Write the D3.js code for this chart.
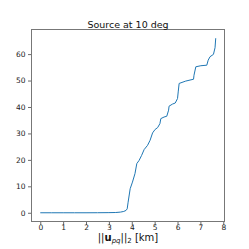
<!DOCTYPE html>
<html>
<head>
<meta charset="utf-8">
<script src="https://cdn.jsdelivr.net/npm/d3@7"></script>
<style>
  body { margin: 0; background: #fff; }
  svg { display: block; font-family: "DejaVu Sans", sans-serif; }
</style>
</head>
<body>
<div id="chart"></div>
<script>
// curve: baseline length (km) vs value
var distKm = [0, 0.5, 1.0, 1.5, 2.0, 2.5, 3.0, 3.3, 3.5, 3.65, 3.75, 3.8, 3.84, 3.93, 4.03, 4.14, 4.22,
  4.32, 4.43, 4.54, 4.69, 4.80, 4.91, 5.02, 5.13, 5.23, 5.27, 5.41, 5.53, 5.61, 5.63, 5.78,
  5.90, 6.00, 6.03, 6.07, 6.36, 6.70, 6.72, 6.80, 7.02, 7.28, 7.34, 7.42, 7.57, 7.64, 7.67];
var values = [0, 0, 0, 0, 0, 0.02, 0.05, 0.1, 0.25, 0.5, 0.9, 1.5, 4.0, 9.1, 11.6, 14.8, 18.6,
  19.8, 21.7, 23.9, 25.5, 27.4, 30.2, 31.5, 32.2, 33.7, 35.6, 36.2, 36.5, 38.8, 40.3, 41.1,
  41.5, 43.2, 45.7, 48.9, 49.8, 50.5, 52.0, 55.2, 55.6, 55.8, 57.7, 59.0, 59.9, 62.4, 66.0];
var xTicks = [0, 1, 2, 3, 4, 5, 6, 7, 8];
var yTicks = [0, 10, 20, 30, 40, 50, 60];
var chartTitle = "Source at 10 deg";

var W = 249, H = 249;
var margin = {top: 29.5, right: 24.5, bottom: 27.5, left: 31.5};
var width = W - margin.left - margin.right,
    height = H - margin.top - margin.bottom;

var svg = d3.select("#chart").append("svg")
  .attr("width", W)
  .attr("height", H);

var g = svg.append("g")
  .attr("transform", "translate(" + margin.left + "," + margin.top + ")");

// matplotlib-like 5% padding
var xMin = d3.min(distKm), xMax = d3.max(distKm);
var yMin = d3.min(values), yMax = d3.max(values);
var xPad = (xMax - xMin) * 0.05, yPad = (yMax - yMin) * 0.05;

var x = d3.scaleLinear().domain([xMin - xPad, xMax + xPad]).range([0, width]);
var y = d3.scaleLinear().domain([yMin - yPad, yMax + yPad]).range([height, 0]);

var xAxis = g.append("g")
  .attr("transform", "translate(0," + height + ")")
  .call(d3.axisBottom(x).tickValues(xTicks).tickSize(3.5).tickPadding(0).tickFormat(d3.format("d")));
var yAxis = g.append("g")
  .call(d3.axisLeft(y).tickValues(yTicks).tickSize(3.5).tickPadding(2.5).tickFormat(d3.format("d")));

[xAxis, yAxis].forEach(function(a) {
  a.select(".domain").remove();
  a.selectAll(".tick line").attr("stroke", "#444").attr("stroke-width", 0.8);
  a.selectAll(".tick text").attr("fill", "#222").style("font-size", "7.5px")
    .style("font-family", "DejaVu Sans, sans-serif");
});
xAxis.selectAll(".tick text").attr("dy", "0.62em");

// frame
g.append("rect")
  .attr("width", width)
  .attr("height", height)
  .attr("fill", "none")
  .attr("stroke", "#777")
  .attr("stroke-width", 1);

var line = d3.line()
  .x(function(d, i) { return x(distKm[i]); })
  .y(function(d) { return y(d); });

g.append("path")
  .datum(values)
  .attr("d", line)
  .attr("fill", "none")
  .attr("stroke", "#1f77b4")
  .attr("stroke-width", 1);

// title
svg.append("text")
  .attr("x", margin.left + width / 2)
  .attr("y", 27.5)
  .attr("text-anchor", "middle")
  .style("font-size", "9.5px")
  .attr("fill", "#111")
  .text(chartTitle);

// x label ||u_pq||_2 [km]
var xl = svg.append("text")
  .attr("x", margin.left + width / 2)
  .attr("y", 241)
  .attr("text-anchor", "middle")
  .style("font-size", "10px")
  .attr("fill", "#111");
xl.append("tspan").text("||");
xl.append("tspan").attr("font-weight", "bold").text("u");
xl.append("tspan").attr("font-style", "italic").style("font-size", "7px").attr("dy", 2).text("pq");
xl.append("tspan").attr("dy", -2).text("||");
xl.append("tspan").style("font-size", "7px").attr("dy", 2).text("2");
xl.append("tspan").attr("dy", -2).text(" [km]");
</script>
</body>
</html>
